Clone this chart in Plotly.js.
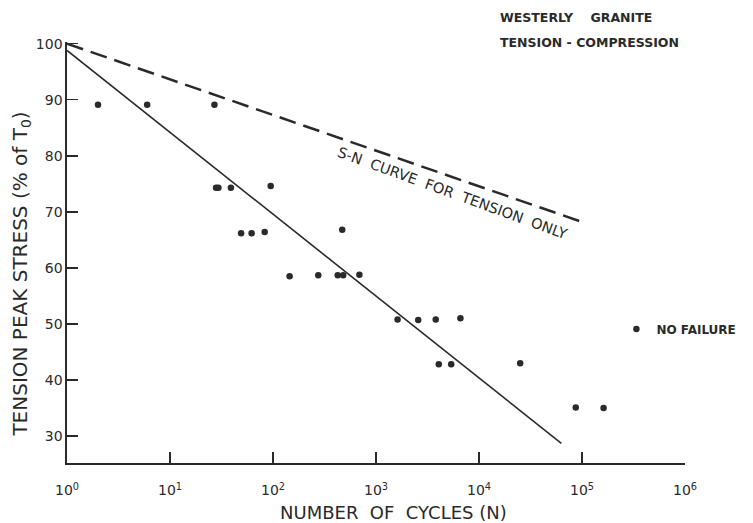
<!DOCTYPE html>
<html><head><meta charset="utf-8">
<script src="https://cdn.plot.ly/plotly-3.0.1.min.js"></script>
<style>html,body{margin:0;padding:0;background:#fff}</style>
</head><body><div id="chart" style="width:753px;height:523px"></div>
<script>
// Failure points (cycles to failure, peak tension stress % of T0)
const failCycles = [2, 6, 27, 28, 29.5, 39, 95, 49, 62, 83, 470, 145, 275, 425, 480, 690, 1620, 2570, 3800, 6600, 4070, 5370, 25100];
const failStress = [89.1, 89.1, 89.1, 74.3, 74.3, 74.3, 74.6, 66.2, 66.2, 66.4, 66.8, 58.5, 58.7, 58.7, 58.7, 58.8, 50.8, 50.7, 50.8, 51.0, 42.8, 42.8, 43.0];
// No-failure points
const runoutCycles = [87000, 162000];
const runoutStress = [35.1, 35.0];
// Fitted tension-compression line
const fitCycles = [1, 63000];
const fitStress = [98.8, 28.7];
// S-N curve for tension only
const tensionCycles = [1, 100000];
const tensionStress = [100, 68.2];
// Ticks
const xTickVals = [1, 10, 100, 1000, 10000, 100000, 1000000];
const xTickText = ['10<sup>0</sup>', '10<sup>1</sup>', '10<sup>2</sup>', '10<sup>3</sup>', '10<sup>4</sup>', '10<sup>5</sup>', '10<sup>6</sup>'];
const yTickVals = [30, 40, 50, 60, 70, 80, 90, 100];
const yTickText = ['30', '40', '50', '60', '70', '80', '90', '100'];

const ink = '#2a2a2a';
const traces = [
  {x: tensionCycles, y: tensionStress, mode: 'lines', showlegend: false,
   line: {color: ink, width: 2.5, dash: '17px,8px'}, hoverinfo: 'skip'},
  {x: fitCycles, y: fitStress, mode: 'lines', showlegend: false,
   line: {color: ink, width: 1.6}, hoverinfo: 'skip'},
  {x: failCycles, y: failStress, mode: 'markers', showlegend: false,
   marker: {color: ink, size: 6.5}},
  {x: runoutCycles, y: runoutStress, mode: 'markers', name: 'NO FAILURE', showlegend: true,
   marker: {color: ink, size: 6.5}}
];

const layout = {
  width: 753, height: 523,
  margin: {l: 67, r: 63, t: 42, b: 60},
  paper_bgcolor: '#fff', plot_bgcolor: '#fff',
  font: {family: 'DejaVu Sans', color: ink},
  xaxis: {
    type: 'log', range: [0, 6], tickvals: xTickVals, ticktext: xTickText,
    ticks: 'inside', ticklen: 11, tickwidth: 1.5, tickcolor: ink,
    showline: true, linecolor: ink, linewidth: 1.6, showgrid: false, zeroline: false,
    tickfont: {size: 14, family: 'DejaVu Sans', color: ink},
    ticklabelstandoff: 14
  },
  yaxis: {
    range: [25.2, 100.3], tickvals: yTickVals, ticktext: yTickText,
    ticks: 'inside', ticklen: 11, tickwidth: 1.5, tickcolor: ink,
    showline: true, linecolor: ink, linewidth: 1.6, showgrid: false, zeroline: false,
    tickfont: {size: 14, family: 'DejaVu Sans', color: ink}
  },
  legend: {x: 0.889, y: 0.318, xanchor: 'left', yanchor: 'middle', bgcolor: 'rgba(0,0,0,0)',
           font: {size: 12, family: 'DejaVu Sans', color: ink, weight: 'bold'}, itemwidth: 30},
  annotations: [
    {xref: 'paper', yref: 'paper', x: 0.698, y: 1.059, xanchor: 'left', yanchor: 'middle', showarrow: false,
     text: 'WESTERLY    GRANITE', font: {size: 12.5, family: 'DejaVu Sans', color: ink, weight: 'bold'}},
    {xref: 'paper', yref: 'paper', x: 0.698, y: 0.998, xanchor: 'left', yanchor: 'middle', showarrow: false,
     text: 'TENSION - COMPRESSION', font: {size: 12.5, family: 'DejaVu Sans', color: ink, weight: 'bold'}},
    {xref: 'x', yref: 'y', x: 3.74, y: 73.4, showarrow: false, textangle: 20,
     text: 'S-N  CURVE  FOR  TENSION  ONLY', font: {size: 14.5, family: 'DejaVu Sans', color: ink}},
    {xref: 'paper', yref: 'paper', x: 0.528, y: -0.118, xanchor: 'center', yanchor: 'middle', showarrow: false,
     text: 'NUMBER  OF  CYCLES (N)', font: {size: 18, family: 'DejaVu Sans', color: ink}},
    {xref: 'paper', yref: 'paper', x: -0.075, y: 0.449, xanchor: 'center', yanchor: 'middle', showarrow: false,
     textangle: -90,
     text: 'TENSION PEAK STRESS (% of T<sub>0</sub>)', font: {size: 20, family: 'DejaVu Sans', color: ink}}
  ]
};
Plotly.newPlot('chart', traces, layout, {displayModeBar: false, staticPlot: true});
</script></body></html>
